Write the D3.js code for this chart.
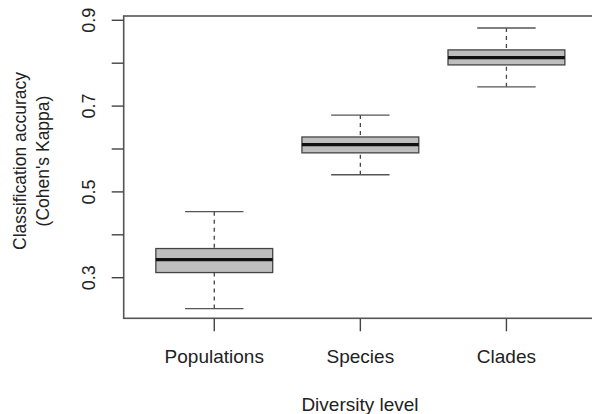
<!DOCTYPE html>
<html><head><meta charset="utf-8">
<script src="https://cdn.jsdelivr.net/npm/d3@7"></script>
<style>html,body{margin:0;padding:0;background:#fff;}svg{display:block;font-family:"Liberation Sans",Arial,Helvetica,sans-serif;}</style>
</head><body>
<script>
const categories = ["Populations", "Species", "Clades"];
const lowerWhisker = [0.228, 0.540, 0.745];
const q1 = [0.312, 0.591, 0.796];
const medians = [0.342, 0.610, 0.813];
const q3 = [0.368, 0.628, 0.831];
const upperWhisker = [0.454, 0.679, 0.882];
const yTicks = [0.3, 0.4, 0.5, 0.6, 0.7, 0.8, 0.9];
const yTickLabels = ["0.3", "", "0.5", "", "0.7", "", "0.9"];
const xTitle = "Diversity level";
const yTitle = ["Classification accuracy", "(Cohen's Kappa)"];

(function () {
const W = 592, H = 414;
const svg = d3.select("body").append("svg").attr("width", W).attr("height", H);

const pLeft = 123.7, pTop = 16, pBottom = 318.3, pRight = 597;
const x = d3.scaleLinear().domain([0.38, 3.62]).range([pLeft, pRight]);
const y = d3.scaleLinear().domain([0.2054, 0.910]).range([pBottom, pTop]);

const boxW = 0.8, capW = 0.4;
const data = categories.map((c, i) => ({c, i: i + 1, lo: lowerWhisker[i], q1: q1[i], med: medians[i], q3: q3[i], hi: upperWhisker[i]}));

const g = svg.append("g");
data.forEach(d => {
  g.append("line").attr("x1", x(d.i)).attr("x2", x(d.i)).attr("y1", y(d.hi)).attr("y2", y(d.q3))
    .attr("stroke", "#444").attr("stroke-width", 1.3).attr("stroke-dasharray", "4,4");
  g.append("line").attr("x1", x(d.i)).attr("x2", x(d.i)).attr("y1", y(d.lo)).attr("y2", y(d.q1))
    .attr("stroke", "#444").attr("stroke-width", 1.3).attr("stroke-dasharray", "4,4");
  [d.hi, d.lo].forEach(v => {
    g.append("line").attr("x1", x(d.i - capW / 2)).attr("x2", x(d.i + capW / 2)).attr("y1", y(v)).attr("y2", y(v))
      .attr("stroke", "#555").attr("stroke-width", 1.3);
  });
  g.append("rect").attr("x", x(d.i - boxW / 2)).attr("width", x(d.i + boxW / 2) - x(d.i - boxW / 2))
    .attr("y", y(d.q3)).attr("height", y(d.q1) - y(d.q3))
    .attr("fill", "#bebebe").attr("stroke", "#444").attr("stroke-width", 1.3);
  g.append("line").attr("x1", x(d.i - boxW / 2)).attr("x2", x(d.i + boxW / 2)).attr("y1", y(d.med)).attr("y2", y(d.med))
    .attr("stroke", "#111").attr("stroke-width", 3.2);
});

svg.append("rect").attr("x", pLeft).attr("y", pTop).attr("width", pRight - pLeft).attr("height", pBottom - pTop)
  .attr("fill", "none").attr("stroke", "#555").attr("stroke-width", 1.6);

const yAxis = svg.append("g");
yTicks.forEach((t, i) => {
  yAxis.append("line").attr("x1", pLeft - 12).attr("x2", pLeft).attr("y1", y(t)).attr("y2", y(t))
    .attr("stroke", "#444").attr("stroke-width", 1.4);
  if (yTickLabels[i]) {
    yAxis.append("text").attr("transform", `translate(95,${y(t)}) rotate(-90)`)
      .attr("text-anchor", "middle").attr("font-size", 18).attr("fill", "#222").text(yTickLabels[i]);
  }
});
categories.forEach((c, i) => {
  svg.append("line").attr("x1", x(i + 1)).attr("x2", x(i + 1)).attr("y1", pBottom).attr("y2", pBottom + 13)
    .attr("stroke", "#444").attr("stroke-width", 1.4);
  svg.append("text").attr("x", x(i + 1)).attr("y", 363).attr("text-anchor", "middle")
    .attr("font-size", 19).attr("fill", "#222").text(c);
});
svg.append("text").attr("x", 360).attr("y", 411).attr("text-anchor", "middle")
  .attr("font-size", 19).attr("fill", "#222").text(xTitle);
svg.append("text").attr("transform", "translate(26,161) rotate(-90)").attr("text-anchor", "middle")
  .attr("font-size", 17.5).attr("fill", "#222").text(yTitle[0]);
svg.append("text").attr("transform", "translate(49,161) rotate(-90)").attr("text-anchor", "middle")
  .attr("font-size", 17.5).attr("fill", "#222").text(yTitle[1]);
})();
</script>
</body></html>
